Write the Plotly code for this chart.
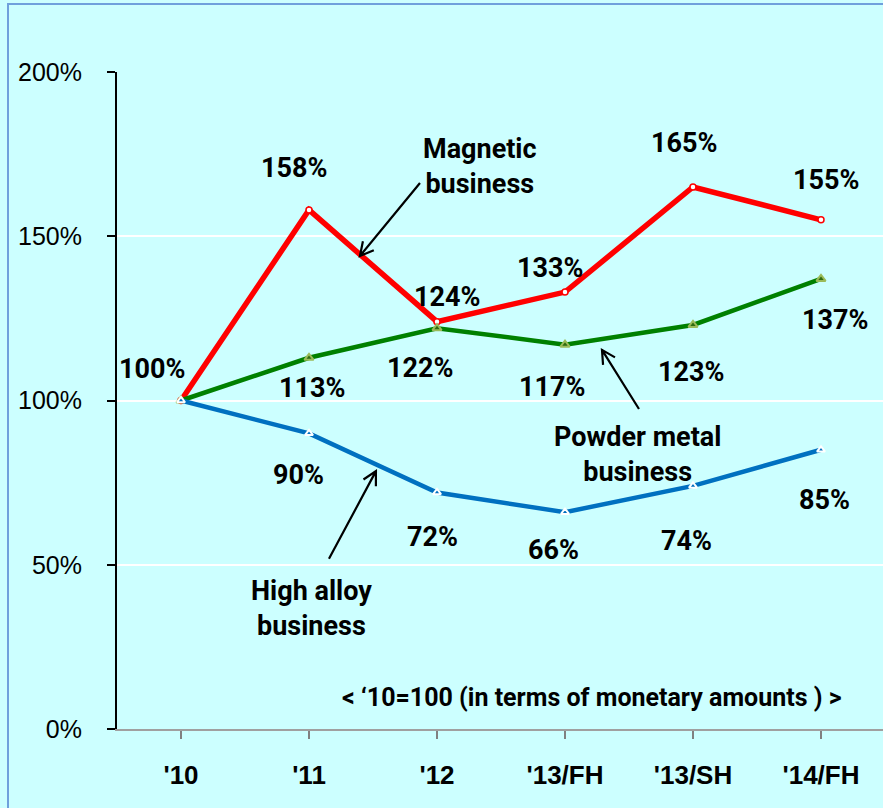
import math
import plotly.graph_objects as go

# Period labels and index values ('10 = 100)
periods = ["'10", "'11", "'12", "'13/FH", "'13/SH", "'14/FH"]
magnetic = [100, 158, 124, 133, 165, 155]
powder_metal = [100, 113, 122, 117, 123, 137]
high_alloy = [100, 90, 72, 66, 74, 85]
y_ticks = [0, 50, 100, 150, 200]

# pixel offsets of each value label from its point (dx, dy; dy up)
mag_offsets = [(-29, 32), (-15, 42), (10, 25), (-15, 24), (-9, 44), (5, 40)]
pm_offsets = [None, (3, -30), (-17, -40), (-13, -42), (-2, -47), (14, -41)]
ha_offsets = [None, (-11, -42), (-5, -45), (-12, -38), (-7, -55), (3, -50)]

BG = "#ccffff"
LABEL_FONT = "Roboto, Liberation Sans, Arial, sans-serif"
AXIS_FONT = "Liberation Sans, Arial, sans-serif"

W, H = 883, 808
ML, MR, MT, MB = 117, 0, 72, 79
plot_w = W - ML - MR
plot_h = H - MT - MB
CAT_PX = 128.0
x_range = [-0.5, -0.5 + plot_w / CAT_PX]
y_range = [0, 200]
PX_Y = plot_h / (y_range[1] - y_range[0])

idx = list(range(len(periods)))

fig = go.Figure()
fig.add_trace(go.Scatter(
    x=idx, y=magnetic, mode="lines+markers", name="Magnetic business",
    line=dict(color="#ff0000", width=5.5),
    marker=dict(symbol="circle", size=6, color="white", line=dict(color="#ff0000", width=1.5)),
    cliponaxis=False,
))
fig.add_trace(go.Scatter(
    x=idx, y=powder_metal, mode="lines+markers", name="Powder metal business",
    line=dict(color="#008000", width=4.5),
    marker=dict(symbol="triangle-up", size=8, color="#2f6b10", line=dict(color="#9bbb59", width=2)),
    cliponaxis=False,
))
fig.add_trace(go.Scatter(
    x=idx, y=high_alloy, mode="lines+markers", name="High alloy business",
    line=dict(color="#0070c0", width=4.5),
    marker=dict(symbol="triangle-up", size=7, color="#0070c0", line=dict(color="white", width=2)),
    cliponaxis=False,
))

annotations = []


def add_value_labels(values, offsets):
    for i, (v, off) in enumerate(zip(values, offsets)):
        if off is None:
            continue
        annotations.append(dict(
            x=i, y=v, xref="x", yref="y", text=f"{v}%", showarrow=False,
            xshift=off[0], yshift=off[1],
            font=dict(family=LABEL_FONT, size=27, color="black", weight="bold"),
        ))


add_value_labels(magnetic, mag_offsets)
add_value_labels(powder_metal, pm_offsets)
add_value_labels(high_alloy, ha_offsets)

# series captions
captions = [
    ("Magnetic<br>business", 2.336, 171.1),
    ("Powder metal<br>business", 3.570, 83.7),
    ("High alloy<br>business", 1.016, 36.8),
]
for text, cx, cy in captions:
    annotations.append(dict(
        x=cx, y=cy, xref="x", yref="y", text=text, showarrow=False,
        font=dict(family=LABEL_FONT, size=27, color="black", weight="bold"),
    ))

annotations.append(dict(
    x=3.211, y=9.7, xref="x", yref="y",
    text="< \u201810=100 (in terms of monetary amounts ) >", showarrow=False,
    font=dict(family=LABEL_FONT, size=25, color="black", weight="bold"),
))

# pointer arrows: (tail, tip) in data units, open V heads
pointers = [
    ((1.867, 166.2), (1.398, 144.0)),
    ((3.578, 97.4), (3.289, 115.4)),
    ((1.156, 51.8), (1.523, 78.5)),
]
shapes = []
HEAD_LEN = 15
HEAD_ANG = math.radians(28)
for (tx, ty), (hx, hy) in pointers:
    dxp = (hx - tx) * CAT_PX
    dyp = (hy - ty) * PX_Y
    ang = math.atan2(dyp, dxp)
    pts = []
    for s in (1, -1):
        a = ang + math.pi + s * HEAD_ANG
        pts.append((hx + HEAD_LEN * math.cos(a) / CAT_PX, hy + HEAD_LEN * math.sin(a) / PX_Y))
    path = (f"M {tx},{ty} L {hx},{hy} "
            f"M {pts[0][0]},{pts[0][1]} L {hx},{hy} L {pts[1][0]},{pts[1][1]}")
    shapes.append(dict(type="path", xref="x", yref="y", path=path,
                       line=dict(color="black", width=2.2)))

# chart frame along the left and top edges
shapes.append(dict(
    type="rect", xref="paper", yref="paper",
    x0=(8 - ML) / plot_w, x1=1.2, y0=-0.3, y1=(plot_h + MT - 4) / plot_h,
    line=dict(color="#6fa0dc", width=2), fillcolor="rgba(0,0,0,0)", layer="below",
))

fig.update_layout(
    width=W, height=H,
    margin=dict(l=ML, r=MR, t=MT, b=MB),
    paper_bgcolor=BG, plot_bgcolor=BG,
    showlegend=False,
    annotations=annotations,
    shapes=shapes,
    xaxis=dict(
        range=x_range, tickmode="array", tickvals=idx, ticktext=periods,
        tickson="boundaries", ticks="outside", ticklen=8, tickwidth=2, tickcolor="#808080",
        showline=True, linecolor="#a0a0a0", linewidth=2, showgrid=False, zeroline=False,
        tickfont=dict(family=AXIS_FONT, size=26, color="black", weight="bold"),
        ticklabelstandoff=14, fixedrange=True,
    ),
    yaxis=dict(
        range=y_range, tickmode="array", tickvals=y_ticks, ticktext=[f"{v}%" for v in y_ticks],
        ticks="outside", ticklen=8, tickwidth=2, tickcolor="black",
        showline=True, linecolor="black", linewidth=2,
        showgrid=True, gridcolor="white", gridwidth=2, zeroline=False,
        tickfont=dict(family=AXIS_FONT, size=25, color="black"),
        ticklabelstandoff=20, fixedrange=True,
    ),
)

fig.write_html("out.html")
